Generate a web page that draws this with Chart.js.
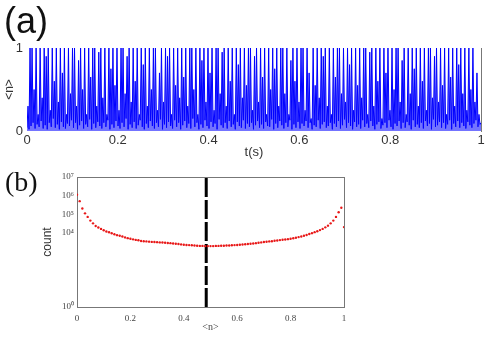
<!DOCTYPE html>
<html lang="en">
<head>
<meta charset="UTF-8">
<title>n trace and histogram</title>
<script src="https://cdn.jsdelivr.net/npm/chart.js"></script>
<style>
    body { margin: 0; width: 491px; height: 337px; background: #fff; position: relative; overflow: hidden; }
    canvas { position: absolute; left: 0; }
    #chartA { top: 0; }
    #chartB { top: 160px; }
    .tag { position: absolute; color: #111; line-height: 1; }
</style>
</head>
<body>
<canvas id="chartA" width="491" height="160"></canvas>
<canvas id="chartB" width="491" height="177"></canvas>
<div class="tag" style="left:4px;top:3px;font-family:'Liberation Sans';font-size:36px">(a)</div>
<div class="tag" style="left:5px;top:168px;font-family:'Liberation Serif';font-size:28px">(b)</div>
<script>
// panel (a): <n> trace, sampled evenly over 0..1 s
const nTrace = [
    0.04,0.3,0.02,1,0.06,1,0.1,0.5,0.03,1,0.08,0.2,0.05,1,0.12,
    0.4,0.03,1,0.07,0.9,0.02,1,0.1,0.25,0.05,1,0.15,0.6,0.04,1,
    0.08,0.35,0.02,1,0.11,0.7,0.05,1,0.03,0.2,0.09,1,0.06,0.45,0.13,
    1,0.04,1,0.1,0.3,0.02,0.85,0.07,1,0.12,0.5,0.03,1,0.08,0.2,
    0.05,1,0.14,0.65,0.02,1,0.09,1,0.04,0.3,0.11,0.95,0.06,1,0.03,
    0.4,0.1,1,0.05,0.2,0.13,1,0.02,0.75,0.08,1,0.04,0.55,0.12,1,
    0.06,0.25,0.03,1,0.1,1,0.05,0.45,0.15,0.9,0.02,1,0.08,0.35,0.04,
    1,0.11,0.6,0.03,1,0.07,0.2,0.13,1,0.05,0.8,0.02,1,0.09,0.3,
    0.04,1,0.12,0.5,0.06,1,0.03,1,0.1,0.25,0.05,0.7,0.14,1,0.02,
    0.35,0.08,1,0.04,0.9,0.11,1,0.06,0.2,0.03,1,0.13,0.55,0.05,1,
    0.1,0.4,0.02,1,0.07,0.65,0.12,1,0.04,0.3,0.09,1,0.03,1,0.15,
    0.5,0.05,1,0.1,0.2,0.02,1,0.08,0.85,0.04,1,0.13,0.35,0.06,1,
    0.03,0.7,0.11,1,0.05,0.25,0.09,1,0.02,1,0.14,0.45,0.07,0.95,0.04,
    1,0.1,0.3,0.03,1,0.12,0.6,0.05,1,0.08,0.2,0.02,1,0.11,0.8,
    0.06,1,0.04,0.4,0.13,1,0.03,0.55,0.09,1,0.05,1,0.1,0.25,0.02,
    0.9,0.07,1,0.12,0.35,0.04,1,0.08,0.65,0.03,1,0.11,0.2,0.06,1,
    0.05,0.5,0.14,1,0.02,0.75,0.09,1,0.04,0.3,0.12,1,0.07,1,0.03,
    0.45,0.1,1,0.05,0.2,0.13,0.85,0.02,1,0.08,0.6,0.04,1,0.11,0.35,
    0.03,1,0.09,1,0.06,0.25,0.12,1,0.04,0.7,0.1,0.15,0.02,1,0.07,
    0.55,0.05,1,0.13,0.4,0.03,1,0.08,0.9,0.11,1,0.04,0.3,0.06,1,
    0.1,0.2,0.02,1,0.09,0.65,0.05,1,0.12,1,0.03,0.45,0.07,1,0.14,
    0.35,0.04,1,0.1,0.8,0.06,1,0.02,0.25,0.11,1,0.05,0.55,0.08,1,
    0.03,0.4,0.13,1,0.05,1,0.09,0.2,0.04,0.95,0.12,1,0.06,0.3,0.02,
    1,0.08,0.6,0.11,1,0.03,0.15,0.07,1,0.1,0.7,0.04,1,0.13,0.25,
    0.05,1,0.02,0.5,0.09,1,0.06,1,0.12,0.35,0.03,0.85,0.1,1,0.04,
    0.2,0.11,1,0.07,0.45,0.02,1,0.13,0.75,0.05,1,0.08,0.3,0.04,1,
    0.1,0.6,0.03,1,0.12,0.25,0.06,1,0.09,1,0.02,0.4,0.14,0.9,0.05,
    1,0.07,0.35,0.11,1,0.04,0.55,0.1,1,0.03,0.2,0.08,1,0.13,0.65,
    0.02,1,0.09,0.3,0.05,1,0.12,0.8,0.04,1,0.1,0.45,0.06,1,0.03,
    0.25,0.11,1,0.07,0.5,0.04,1,0.09,0.35,0.13,0.7,0.05,0.2,0.08,0.1
];
const tTicks = [0, 0.2, 0.4, 0.6, 0.8, 1];

// panel (b): histogram of <n>, bins 0..1 step 0.01
const nBins = [
    0,0.01,0.02,0.03,0.04,0.05,0.06,0.07,0.08,0.09,
    0.1,0.11,0.12,0.13,0.14,0.15,0.16,0.17,0.18,0.19,
    0.2,0.21,0.22,0.23,0.24,0.25,0.26,0.27,0.28,0.29,
    0.3,0.31,0.32,0.33,0.34,0.35,0.36,0.37,0.38,0.39,
    0.4,0.41,0.42,0.43,0.44,0.45,0.46,0.47,0.48,0.49,
    0.5,0.51,0.52,0.53,0.54,0.55,0.56,0.57,0.58,0.59,
    0.6,0.61,0.62,0.63,0.64,0.65,0.66,0.67,0.68,0.69,
    0.7,0.71,0.72,0.73,0.74,0.75,0.76,0.77,0.78,0.79,
    0.8,0.81,0.82,0.83,0.84,0.85,0.86,0.87,0.88,0.89,
    0.9,0.91,0.92,0.93,0.94,0.95,0.96,0.97,0.98,0.99,1
];
const counts = [
    1.1e6,5.0e5,2.0e5,1.1e5,7.1e4,4.5e4,3.2e4,2.3e4,1.9e4,1.6e4,
    1.35e4,1.17e4,1.05e4,9.3e3,8.3e3,7.4e3,6.8e3,6.2e3,5.6e3,5.1e3,
    4.7e3,4.4e3,4.1e3,3.9e3,3.6e3,3.5e3,3.4e3,3.3e3,3.2e3,3.15e3,
    3.1e3,3.0e3,2.95e3,2.9e3,2.8e3,2.75e3,2.65e3,2.55e3,2.45e3,2.35e3,
    2.25e3,2.2e3,2.15e3,2.1e3,2.05e3,2.0e3,1.95e3,1.95e3,1.9e3,1.9e3,
    1.9e3,1.9e3,1.95e3,1.95e3,2.0e3,2.0e3,2.05e3,2.05e3,2.1e3,2.15e3,
    2.2e3,2.25e3,2.3e3,2.4e3,2.45e3,2.55e3,2.65e3,2.75e3,2.9e3,3.0e3,
    3.15e3,3.25e3,3.4e3,3.5e3,3.7e3,3.8e3,4.0e3,4.2e3,4.3e3,4.5e3,
    4.7e3,5.0e3,5.4e3,5.8e3,6.3e3,6.9e3,7.6e3,8.5e3,9.5e3,1.07e4,
    1.2e4,1.38e4,1.6e4,1.95e4,2.4e4,3.2e4,4.5e4,7.1e4,1.26e5,2.2e5,2.0e4
];
const splitX = 0.484;
const bXTicks = [0, 0.2, 0.4, 0.6, 0.8, 1];
const bYTicks = [1, 10, 100, 1000, 1e4, 1e5, 1e6, 1e7];
const bYLabels = ['10\u2070', '', '', '', '10\u2074', '10\u2075', '10\u2076', '10\u2077'];

const sans = 'Liberation Sans';
const serif = 'Liberation Serif';

// ---- chart (a)
const tracePts = nTrace.map((v, i) => ({ x: i / (nTrace.length - 1), y: v }));
new Chart(document.getElementById('chartA'), {
    type: 'line',
    data: {
        datasets: [{
            data: tracePts,
            borderColor: '#0000ff',
            borderWidth: 1,
            backgroundColor: 'rgba(0,0,255,0.55)',
            fill: 'origin',
            pointRadius: 0,
            tension: 0
        }]
    },
    options: {
        responsive: false,
        animation: false,
        devicePixelRatio: 1,
        layout: { padding: { top: 48, right: 10, left: 0, bottom: 0 } },
        plugins: { legend: { display: false }, tooltip: { enabled: false } },
        scales: {
            x: {
                type: 'linear', min: 0, max: 1,
                afterBuildTicks: s => { s.ticks = tTicks.map(v => ({ value: v })); },
                grid: { display: false, drawTicks: false },
                border: { display: false },
                ticks: { color: '#333', font: { family: sans, size: 13 }, padding: 2, maxRotation: 0, callback: v => String(v) },
                title: { display: true, text: 't(s)', color: '#333', font: { family: sans, size: 13 }, padding: 0 },
                afterFit: s => { s.height = 29; }
            },
            y: {
                min: 0, max: 1,
                afterBuildTicks: s => { s.ticks = [{ value: 0 }, { value: 1 }]; },
                grid: { display: false, drawTicks: false },
                border: { display: false },
                ticks: { color: '#333', font: { family: sans, size: 13 }, padding: 4 },
                title: { display: true, text: '<n>', color: '#333', font: { family: sans, size: 12 }, padding: { top: 2, bottom: 0 } },
                afterFit: s => { s.width = 27; }
            },
            yr: {
                position: 'right', min: 0, max: 1,
                grid: { display: false, drawTicks: false },
                border: { display: true, color: '#777', width: 1 },
                ticks: { display: false },
                afterFit: s => { s.width = 0; }
            }
        }
    }
});

// ---- chart (b)
const histPts = nBins.map((x, i) => ({ x: x, y: counts[i] }));
new Chart(document.getElementById('chartB'), {
    type: 'scatter',
    data: {
        datasets: [{
            data: histPts,
            pointRadius: 1.2,
            pointBackgroundColor: '#e81818',
            pointBorderWidth: 0
        }, {
            type: 'line',
            data: [{ x: splitX, y: 1 }, { x: splitX, y: 1e7 }],
            borderColor: '#000',
            borderWidth: 3,
            borderDash: [19, 3],
            pointRadius: 0
        }]
    },
    options: {
        responsive: false,
        animation: false,
        devicePixelRatio: 1,
        layout: { padding: { top: 17, right: 147, left: 0, bottom: 0 } },
        plugins: { legend: { display: false }, tooltip: { enabled: false } },
        scales: {
            x: {
                type: 'linear', min: 0, max: 1,
                afterBuildTicks: s => { s.ticks = bXTicks.map(v => ({ value: v })); },
                grid: { display: false, drawTicks: false },
                border: { display: true, color: '#777', width: 1 },
                ticks: { color: '#444', font: { family: serif, size: 9 }, padding: 6, maxRotation: 0, callback: v => String(v) },
                title: { display: true, text: '<n>', color: '#444', font: { family: serif, size: 10 }, padding: { top: 0, bottom: 4 } },
                afterFit: s => { s.height = 30; }
            },
            y: {
                type: 'logarithmic', min: 1, max: 1e7,
                afterBuildTicks: s => { s.ticks = bYTicks.map(v => ({ value: v })); },
                grid: { display: false, drawTicks: false },
                border: { display: true, color: '#777', width: 1 },
                ticks: {
                    color: '#444', font: { family: serif, size: 9 }, padding: 3,
                    callback: (v, i) => bYLabels[i]
                },
                title: { display: true, text: 'count', color: '#333', font: { family: sans, size: 12 }, padding: { top: 40, bottom: 0 } },
                afterFit: s => { s.width = 77; }
            },
            xt: {
                position: 'top', min: 0, max: 1,
                grid: { display: false, drawTicks: false },
                border: { display: true, color: '#777', width: 1 },
                ticks: { display: false },
                afterFit: s => { s.height = 0; }
            },
            yr: {
                position: 'right', min: 0, max: 1,
                grid: { display: false, drawTicks: false },
                border: { display: true, color: '#777', width: 1 },
                ticks: { display: false },
                afterFit: s => { s.width = 0; }
            }
        }
    }
});
</script>
</body>
</html>
